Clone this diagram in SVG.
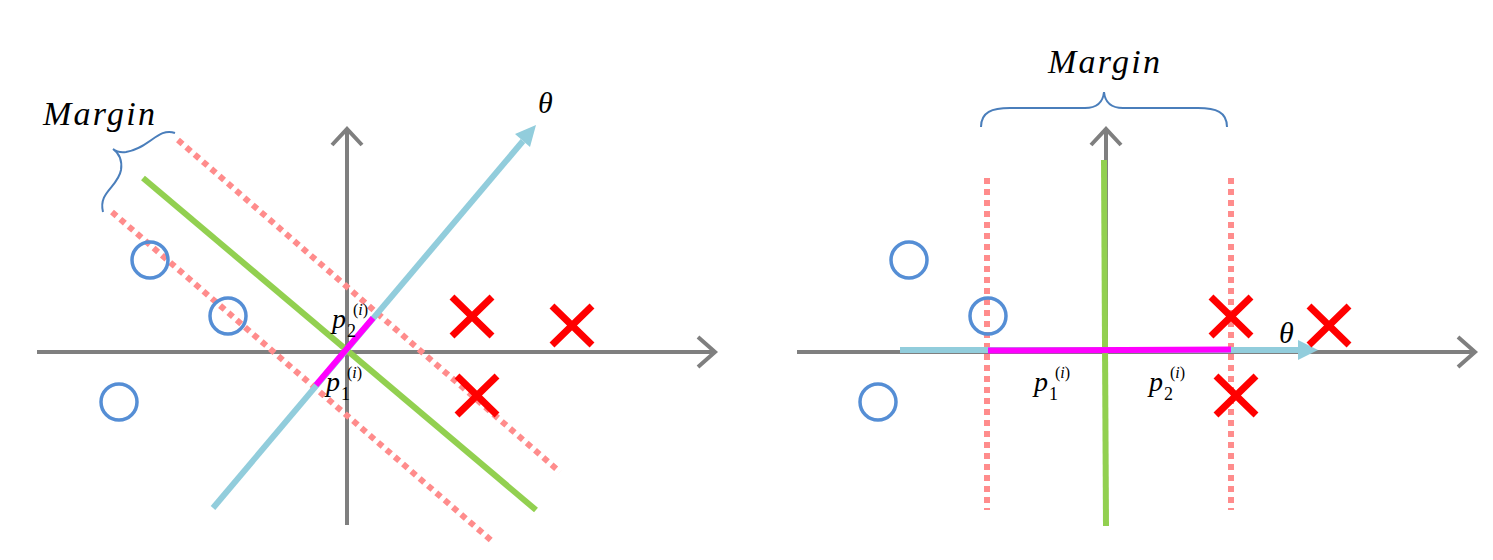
<svg xmlns="http://www.w3.org/2000/svg" width="1493" height="560" viewBox="0 0 1493 560">
<defs>
<style>
.axis{stroke:#7f7f7f;stroke-width:4;fill:none}
.head{stroke:#7f7f7f;stroke-width:4;fill:none;stroke-linejoin:miter}
.green{stroke:#92d050;stroke-width:6;fill:none}
.theta{stroke:#92cddc;stroke-width:6;fill:none}
.thead{fill:#92cddc}
.margin{stroke:#ff8c8c;stroke-width:6;stroke-dasharray:6 5;fill:none}
.proj{stroke:#ff00ff;stroke-width:6;fill:none}
.circ{stroke:#558ed5;stroke-width:3.5;fill:none}
.cross{stroke:#ff0000;stroke-width:7;fill:none}
.brace{stroke:#4a7ebb;stroke-width:2;fill:none}
.t{font-family:"Liberation Serif","DejaVu Serif",serif;font-style:italic;fill:#000}
.s{font-family:"Liberation Serif","DejaVu Serif",serif;fill:#000}
</style>
</defs>
<g id="connectors">
<line class="axis" x1="37" y1="352" x2="715" y2="352"/>
<polyline class="head" points="698,337 715,352 698,367"/>
<line class="axis" x1="347" y1="525" x2="347" y2="129"/>
<polyline class="head" points="332,145 347,129 362,145"/>
<line class="margin" x1="178" y1="140" x2="560" y2="472"/>
<line class="margin" x1="112" y1="212" x2="493" y2="542"/>
<line class="green" x1="143" y1="178" x2="536" y2="510"/>
<line class="theta" x1="213" y1="508" x2="523" y2="141"/>
<polygon class="thead" points="536,125 515,134 530,147"/>
<line class="proj" x1="316" y1="385" x2="373" y2="318"/>
<line class="axis" x1="797" y1="352" x2="1475" y2="352"/>
<polyline class="head" points="1458,337 1475,352 1458,367"/>
<line class="axis" x1="1106" y1="525" x2="1106" y2="129"/>
<polyline class="head" points="1091,145 1106,129 1121,145"/>
<line class="margin" x1="987" y1="178" x2="987" y2="510"/>
<line class="margin" x1="1231" y1="178" x2="1231" y2="510"/>
<line class="green" x1="1104" y1="160" x2="1106" y2="526"/>
<line class="theta" x1="900" y1="350" x2="1300" y2="350"/>
<polygon class="thead" points="1318,350 1298,340 1298,360"/>
<line class="proj" x1="988" y1="350.5" x2="1231" y2="349.5"/>
</g>
<g id="brace-left">
<path class="brace" d="M175,133 C158,127 150,148 126,152 Q118,153 113,149 Q123,156 121,170 C118,187 98,192 103,212"/>
</g>
<g id="brace-right">
<path class="brace" d="M981,127 C981,112 992,108 1010,108 L1085,108 C1097,108 1103,102 1104,92 C1105,102 1111,108 1123,108 L1198,108 C1216,108 1227,112 1227,127"/>
</g>
<g id="circles-left">
<circle class="circ" cx="150" cy="260" r="18"/>
<circle class="circ" cx="228" cy="316" r="18"/>
<circle class="circ" cx="119" cy="402" r="18"/>
</g>
<g id="circles-right">
<circle class="circ" cx="909" cy="260" r="18"/>
<circle class="circ" cx="988" cy="316" r="18"/>
<circle class="circ" cx="878" cy="402" r="18"/>
</g>
<g id="crosses-left">
<path class="cross" d="M452,297 L492,336 M492,297 L452,336"/>
<path class="cross" d="M552,306 L592,345 M592,306 L552,345"/>
<path class="cross" d="M457,376 L497,415 M497,376 L457,415"/>
</g>
<g id="crosses-right">
<path class="cross" d="M1211,297 L1251,336 M1251,297 L1211,336"/>
<path class="cross" d="M1309,306 L1349,345 M1349,306 L1309,345"/>
<path class="cross" d="M1216,376 L1256,415 M1256,376 L1216,415"/>
</g>
<g id="labels-left">
<text class="t" x="43" y="125" font-size="34" textLength="112" lengthAdjust="spacing">Margin</text>
<text class="t" x="538" y="113" font-size="30">θ</text>
<text class="t" x="332" y="328" font-size="28">p</text>
<text class="s" x="347" y="337" font-size="18">2</text>
<text class="s" x="353" y="315" font-size="16">(<tspan font-style="italic">i</tspan>)</text>
<text class="t" x="326" y="391" font-size="28">p</text>
<text class="s" x="341" y="400" font-size="18">1</text>
<text class="s" x="347" y="378" font-size="16">(<tspan font-style="italic">i</tspan>)</text>
</g>
<g id="labels-right">
<text class="t" x="1048" y="73" font-size="34" textLength="112" lengthAdjust="spacing">Margin</text>
<text class="t" x="1279" y="343" font-size="30">θ</text>
<text class="t" x="1034" y="391" font-size="28">p</text>
<text class="s" x="1049" y="400" font-size="18">1</text>
<text class="s" x="1055" y="378" font-size="16">(<tspan font-style="italic">i</tspan>)</text>
<text class="t" x="1149" y="391" font-size="28">p</text>
<text class="s" x="1164" y="400" font-size="18">2</text>
<text class="s" x="1170" y="378" font-size="16">(<tspan font-style="italic">i</tspan>)</text>
</g>
</svg>
